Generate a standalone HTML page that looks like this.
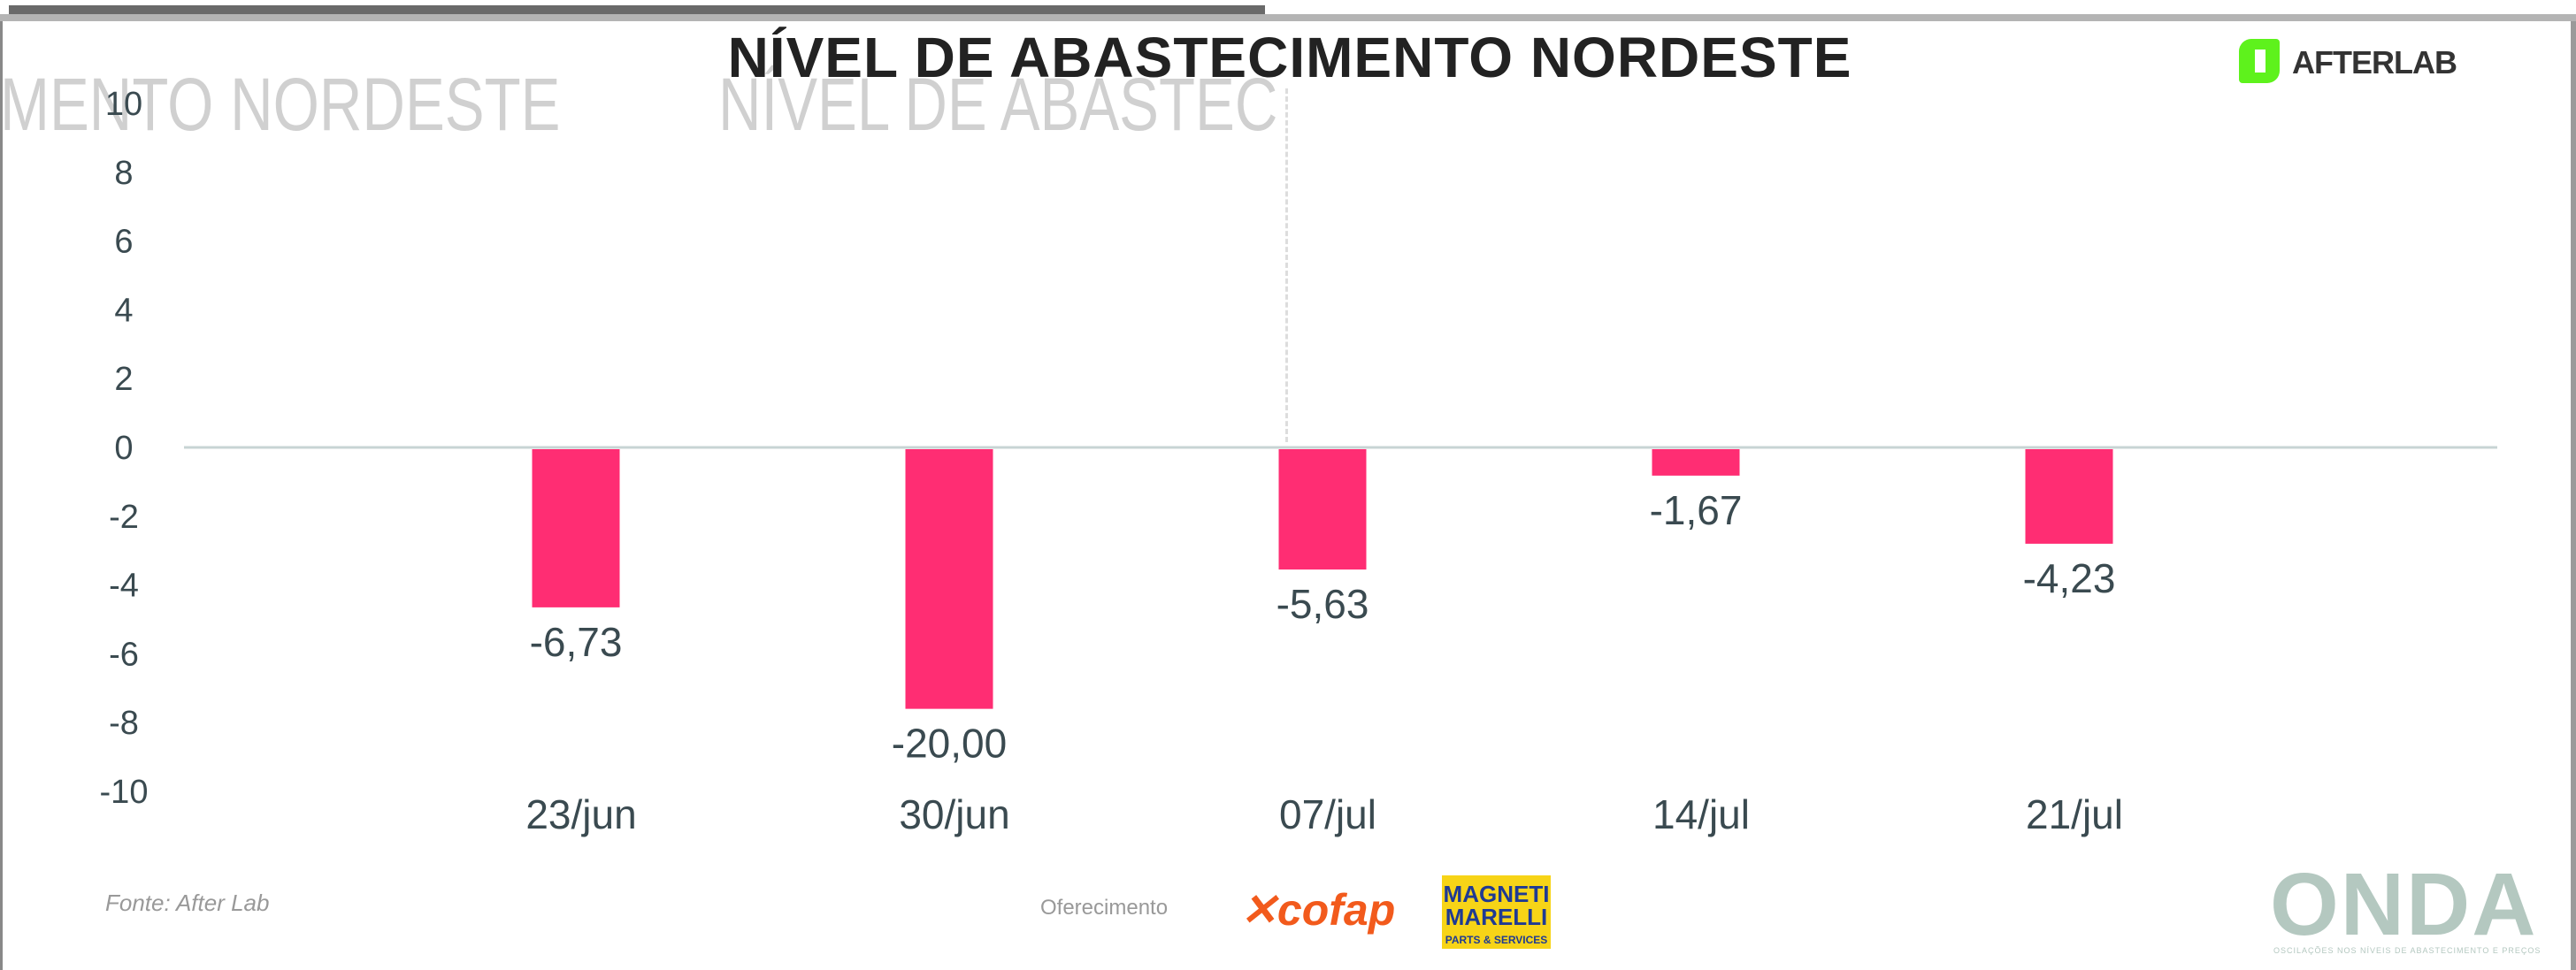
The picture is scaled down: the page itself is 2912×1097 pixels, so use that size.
<!DOCTYPE html>
<html><head><meta charset="utf-8"><style>
html,body{margin:0;padding:0;background:#fff;}
#root{position:relative;width:2912px;height:1097px;overflow:hidden;background:#fff;font-family:"Liberation Sans",sans-serif;}
.abs{position:absolute;}
</style></head><body>
<div id="root">
<div class="abs" style="left:10px;top:6px;width:1420px;height:10px;background:#6a6a6a;"></div>
<div class="abs" style="left:0;top:16px;width:2912px;height:8px;background:#b4b4b4;"></div>
<div class="abs" style="left:0;top:24px;width:3px;height:1073px;background:#888;"></div>
<div class="abs" style="right:0;top:24px;width:6px;height:1073px;background:#9a9a9a;"></div>
<div class="abs" style="left:0;top:70px;font:84px 'Liberation Sans',sans-serif;color:#d0d0d0;white-space:nowrap;transform:scaleX(0.8);transform-origin:0 0;">MENTO NORDESTE</div>
<div class="abs" style="left:812px;top:70px;font:84px 'Liberation Sans',sans-serif;color:#d0d0d0;white-space:nowrap;transform:scaleX(0.8);transform-origin:0 0;">NÍVEL DE ABASTEC</div>
<div class="abs" style="left:1453px;top:100px;width:0;height:400px;border-left:3px dashed #ddd;"></div>
<div class="abs" style="left:812px;top:28px;width:1292px;text-align:center;font:bold 64px 'Liberation Sans',sans-serif;color:#222;white-space:nowrap;letter-spacing:1px;">NÍVEL DE ABASTECIMENTO NORDESTE</div>
<div class="abs" style="left:2531px;top:44px;width:300px;height:50px;">
 <div style="position:absolute;left:0;top:0;width:46px;height:50px;background:#5ef21c;border-radius:14px 4px 14px 4px;"></div>
 <div style="position:absolute;left:18px;top:12px;width:12px;height:26px;background:#fff;"></div>
 <div style="position:absolute;left:60px;top:6px;font:bold 36px 'Liberation Sans',sans-serif;color:#333;letter-spacing:-1px;">AFTERLAB</div>
</div>
<svg class="abs" style="left:0;top:0" width="2912" height="1097">
<g id="yaxis"></g><g id="bars"></g><g id="xaxis"></g>
</svg>
<div class="abs" style="left:119px;top:1006px;font:italic 26px 'Liberation Sans',sans-serif;color:#999;">Fonte: After Lab</div>
<div class="abs" style="left:1176px;top:1013px;font:24px 'Liberation Sans',sans-serif;color:#999;">Oferecimento</div>
<div class="abs" style="left:1402px;top:1000px;font:italic bold 50px 'Liberation Sans',sans-serif;color:#f25a1c;">✕cofap</div>
<div class="abs" style="left:1630px;top:990px;width:123px;height:83px;background:#f7d417;text-align:center;">
 <div style="font:bold 26px 'Liberation Sans',sans-serif;color:#1f3a93;line-height:26px;margin-top:8px;">MAGNETI<br>MARELLI</div>
 <div style="font:bold 12px 'Liberation Sans',sans-serif;color:#1f3a93;margin-top:6px;">PARTS &amp; SERVICES</div>
</div>
<div class="abs" style="left:2566px;top:966px;font:bold 100px 'Liberation Sans',sans-serif;color:#b4c8c0;letter-spacing:2px;">ONDA</div>
<div class="abs" style="left:2570px;top:1070px;font:9px 'Liberation Sans',sans-serif;color:#b4c8c0;letter-spacing:1px;white-space:nowrap;">OSCILAÇÕES NOS NÍVEIS DE ABASTECIMENTO E PREÇOS</div>
</div>
<script>
const categories = ["23/jun","30/jun","07/jul","14/jul","21/jul"];
const barValues = [-4.65,-7.6,-3.55,-0.82,-2.8];
const valueLabels = ["-6,73","-20,00","-5,63","-1,67","-4,23"];
const yTicks = [10,8,6,4,2,0,-2,-4,-6,-8,-10];

const NS="http://www.w3.org/2000/svg";
const y0=506, unit=38.9;
function yScale(v){return y0 - v*unit;}
const firstCenter=651, step=422, barW=99;
function xScale(i){return firstCenter + i*step;}
function mk(tag,attrs,parent){const e=document.createElementNS(NS,tag);for(const k in attrs)e.setAttribute(k,attrs[k]);parent.appendChild(e);return e;}
const gy=document.getElementById('yaxis'), gb=document.getElementById('bars'), gx=document.getElementById('xaxis');
yTicks.forEach(t=>{
  const tx=mk('text',{x:140,y:yScale(t)+13,'text-anchor':'middle','font-size':38,fill:'#3a4a50','font-family':'Liberation Sans, sans-serif'},gy);
  
  
  tx.textContent=String(t);
});
const zl=mk('line',{x1:208,x2:2823,y1:yScale(0),y2:yScale(0),stroke:'#c8d4d4','stroke-width':3},gy);


categories.forEach((c,i)=>{
  const v=barValues[i], cx=xScale(i);
  const top=Math.min(yScale(0),yScale(v)), h=Math.abs(yScale(v)-yScale(0));
  const r=mk('rect',{x:cx-barW/2,y:top+2,width:barW,height:Math.max(0,h-2),fill:'#ff2d73'},gb);
  
  
  const lb=mk('text',{x:cx,y:Math.max(yScale(0),yScale(v))+55,'text-anchor':'middle','font-size':46,fill:'#3a4a50','font-family':'Liberation Sans, sans-serif'},gb);
  
  
  lb.textContent=valueLabels[i];
  const xl=mk('text',{x:cx+6,y:937,'text-anchor':'middle','font-size':46,fill:'#3a4a50','font-family':'Liberation Sans, sans-serif'},gx);
  
  
  xl.textContent=c;
});
</script>
</body></html>
